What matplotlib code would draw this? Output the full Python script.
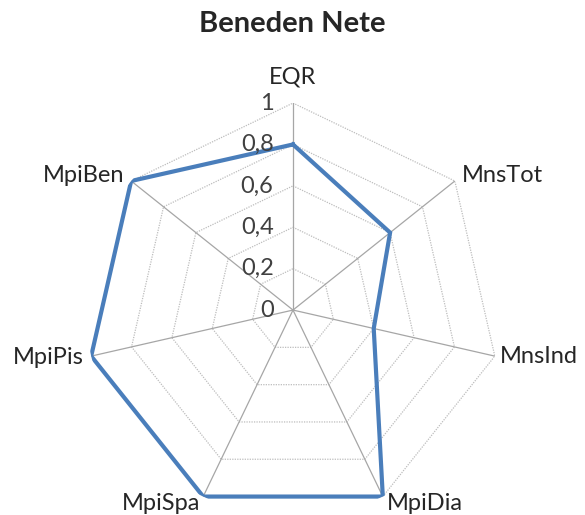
import numpy as np
import matplotlib
matplotlib.use("Agg")
import matplotlib.pyplot as plt

categories = ["EQR", "MnsTot", "MnsInd", "MpiDia", "MpiSpa", "MpiPis", "MpiBen"]
values = [0.8, 0.6, 0.4, 1.0, 1.0, 1.0, 1.0]
ring_values = [0.2, 0.4, 0.6, 0.8, 1.0]
tick_values = [0, 0.2, 0.4, 0.6, 0.8, 1.0]
tick_labels = ["0", "0,2", "0,4", "0,6", "0,8", "1"]
title = "Beneden Nete"

plt.rcParams['font.family'] = ['Lato', 'DejaVu Sans']

fig = plt.figure(figsize=(5.85, 5.15), dpi=100)
ax = fig.add_axes([0.147, -0.004, 0.7077, 0.8039], projection='polar')
ax.set_theta_offset(np.pi / 2)
ax.set_theta_direction(-1)
ax.set_ylim(0, 1)
ax.grid(False)
ax.spines['polar'].set_visible(False)
ax.set_xticks([])
ax.set_yticks([])
ax.patch.set_alpha(0)

n = len(categories)
angles = np.arange(n) * 2 * np.pi / n
closed = np.append(angles, angles[0])

# polygon rings
for r in ring_values:
    ax.plot(closed, [r] * (n + 1), color='#BDBDBD', lw=0.9, ls=(0, (1, 1)), zorder=1)
# spokes
for a in angles:
    ax.plot([a, a], [0, 1], color='#A6A6A6', lw=0.9, zorder=2)

# data
vals = np.append(values, values[0])
ax.plot(closed, vals, color='#4A7EBB', lw=3.0, zorder=3, solid_joinstyle='miter')

# radial tick labels
for v, lab in zip(tick_values, tick_labels):
    ax.annotate(lab, xy=(0, v), xytext=(-14, 0), textcoords='offset points',
                ha='right', va='center', fontsize=17, color='#404040')

# category labels
offsets = {
    "EQR": ((0, 19), 'center', 'center'),
    "MnsTot": ((5, 4), 'left', 'center'),
    "MnsInd": ((4, 0), 'left', 'center'),
    "MpiDia": ((3, -5), 'left', 'center'),
    "MpiSpa": ((-2, -5), 'right', 'center'),
    "MpiPis": ((-5, -1), 'right', 'center'),
    "MpiBen": ((-5, 4), 'right', 'center'),
}
for a, c in zip(angles, categories):
    off, ha, va = offsets[c]
    ax.annotate(c, xy=(a, 1.0), xytext=off, textcoords='offset points',
                ha=ha, va=va, fontsize=17, color='#262626', annotation_clip=False)

fig.text(0.5, 1 - 24 / 515, title, ha='center', va='center', fontsize=21,
         fontweight='bold', color='#262626')

fig.savefig("out.png", dpi=100)
